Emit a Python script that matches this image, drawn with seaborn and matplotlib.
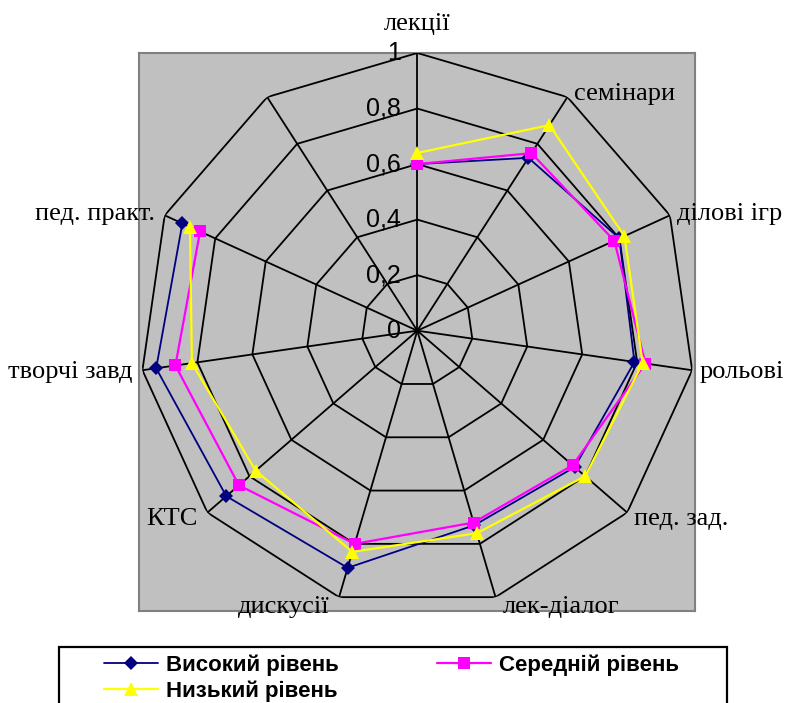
import numpy as np
import pandas as pd
import matplotlib
matplotlib.use("Agg")
import matplotlib.pyplot as plt
from matplotlib.lines import Line2D
from matplotlib.patches import Rectangle
import seaborn as sns

# Categories around the radar (the last spoke has no label and no values)
categories = ["лекції", "семінари", "ділові ігр", "рольові", "пед. зад.",
              "лек-діалог", "дискусії", "КТС", "творчі завд", "пед. практ.", ""]

high = [0.60, 0.74, 0.80, 0.79, 0.75, 0.73, 0.89, 0.91, 0.95, 0.93, np.nan]
medium = [0.60, 0.76, 0.78, 0.83, 0.74, 0.72, 0.80, 0.85, 0.88, 0.86, np.nan]
low = [0.64, 0.88, 0.82, 0.82, 0.80, 0.76, 0.83, 0.77, 0.82, 0.90, np.nan]

series_names = ["Високий рівень", "Середній рівень", "Низький рівень"]
radial_ticks = [0, 0.2, 0.4, 0.6, 0.8, 1.0]
radial_labels = ["0", "0,2", "0,4", "0,6", "0,8", "1"]

colors = {"Високий рівень": "#000080", "Середній рівень": "#FF00FF",
          "Низький рівень": "#FFFF00"}
markers = {"Високий рівень": "D", "Середній рівень": "s", "Низький рівень": "^"}
msizes = {"Високий рівень": 7.5, "Середній рівень": 8.5, "Низький рівень": 10}
lwidths = {"Високий рівень": 1.3, "Середній рівень": 1.6, "Низький рівень": 1.6}

sns.set_style("white")
plt.rcParams["font.family"] = ["Liberation Sans", "DejaVu Sans"]
plt.rcParams["text.color"] = "black"

n = len(categories)
theta = np.arange(n) * 2 * np.pi / n

frame = []
for name, vals in zip(series_names, [high, medium, low]):
    frame.append(pd.DataFrame({"theta": theta, "value": vals, "series": name}))
df = pd.concat(frame, ignore_index=True)

W, H = 791, 703
fig = plt.figure(figsize=(W / 100, H / 100), dpi=100)

# grey plot area
bg = fig.add_axes([139 / W, 1 - 610.5 / H, 555.5 / W, 557.8 / H])
bg.set_facecolor("#C0C0C0")
bg.set_xticks([]); bg.set_yticks([])
for s in bg.spines.values():
    s.set_color("#808080"); s.set_linewidth(1.5)

cx, cy, R = 417.3, 330.7, 277.7
ax = fig.add_axes([(cx - R) / W, 1 - (cy + R) / H, 2 * R / W, 2 * R / H],
                  projection="polar")
ax.set_theta_zero_location("N")
ax.set_theta_direction(-1)
ax.set_ylim(0, 1)
ax.patch.set_alpha(0)
ax.spines["polar"].set_visible(False)
ax.grid(False)
ax.set_xticks([]); ax.set_yticks([])

# polygonal grid rings and spokes
ring_theta = np.append(theta, theta[0])
for r in radial_ticks[1:]:
    ax.plot(ring_theta, np.full_like(ring_theta, r), color="black", lw=1.3, zorder=1)
for t in theta:
    ax.plot([t, t], [0, 1], color="black", lw=1.3, zorder=1)

for i, name in enumerate(series_names):
    sub = df[df["series"] == name]
    sns.lineplot(data=sub, x="theta", y="value", ax=ax, color=colors[name],
                 marker=markers[name], markersize=msizes[name],
                 markeredgewidth=0, linewidth=lwidths[name], zorder=3 + i,
                 estimator=None, sort=False)
ax.set_xlabel(""); ax.set_ylabel("")
ax.set_ylim(0, 1)

# radial value labels along the top spoke
for r, lab in zip(radial_ticks, radial_labels):
    ax.annotate(lab, xy=(0, r), xytext=(-12, 0), textcoords="offset points",
                ha="right", va="center", fontsize=18, color="black", zorder=6)

# category labels
for t, lab in zip(theta, categories):
    if not lab:
        continue
    s, c = np.sin(t), np.cos(t)
    if abs(s) < 0.05:
        ha, dx, dy = "center", 0, 21
    else:
        ha = "left" if s > 0 else "right"
        dx = 5 if s > 0 else -7
        dy = 2.5 * c if c > 0 else 7.5 * c
    ax.annotate(lab, xy=(t, 1), xytext=(dx, dy), textcoords="offset points",
                ha=ha, va="center", fontsize=19, family="Liberation Serif",
                color="black", annotation_clip=False)

# legend box
fig.patches.append(Rectangle((59 / W, -0.05), (727 - 59) / W, 0.05 + 1 - 647 / H,
                             transform=fig.transFigure, facecolor="white",
                             edgecolor="black", linewidth=1.6))
handles = {name: Line2D([], [], color=colors[name], marker=markers[name],
                        markersize=msizes[name], markeredgewidth=0,
                        linewidth=lwidths[name]) for name in series_names}
order = ["Високий рівень", "Низький рівень", "Середній рівень"]
leg = fig.legend([handles[k] for k in order], order, ncol=2,
                 loc="upper left", bbox_to_anchor=(104 / W, 1 - 654 / H),
                 frameon=False, borderpad=0, borderaxespad=0,
                 handlelength=2.45, handletextpad=0.34,
                 columnspacing=4.4, labelspacing=0.22,
                 prop={"family": "Liberation Sans", "weight": "bold", "size": 16})

fig.savefig("out.png", dpi=100)
